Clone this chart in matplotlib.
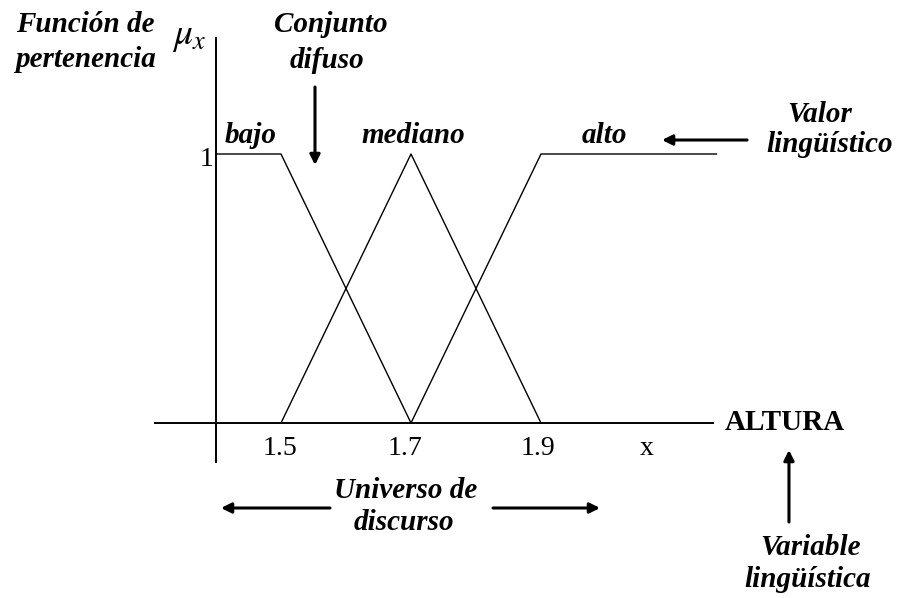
import matplotlib
matplotlib.use('Agg')
import matplotlib.pyplot as plt

# membership functions for "altura" (m) -> degree of membership
BAJO_X = [1.4, 1.5, 1.7]
BAJO_Y = [1, 1, 0]
MEDIANO_X = [1.5, 1.7, 1.9]
MEDIANO_Y = [0, 1, 0]
ALTO_X = [1.7, 1.9, 2.17]
ALTO_Y = [0, 1, 1]
TICKS = [1.5, 1.7, 1.9]
TICK_LABEL_X = [1.498, 1.690, 1.895]
SET_LABELS = ['bajo', 'mediano', 'alto']
SET_LABEL_X = [1.454, 1.703, 1.997]

plt.rcParams['mathtext.fontset'] = 'stix'
SERIF = 'Liberation Serif'
FS = 21

fig = plt.figure(figsize=(8.97, 5.98), dpi=100)
ax = fig.add_axes([0, 0, 1, 1])
ax.set_xlim(1.0677, 2.4477)
ax.set_ylim(-0.6506, 1.5725)
ax.axis('off')

# axes of the diagram
ax.plot([1.306, 2.165], [0, 0], color='black', lw=1.4)
ax.plot([1.4, 1.4], [-0.145, 1.431], color='black', lw=1.4)

for xs, ys in [(BAJO_X, BAJO_Y), (MEDIANO_X, MEDIANO_Y), (ALTO_X, ALTO_Y)]:
    ax.plot(xs, ys, color='black', lw=1.0)

bi = dict(family=SERIF, style='italic', weight='bold', color='black',
          fontsize=FS, ha='center', va='baseline')
for lab, x in zip(SET_LABELS, SET_LABEL_X):
    ax.text(x, 1.04, lab, **bi)

for t, x in zip(TICKS, TICK_LABEL_X):
    ax.text(x, -0.093, f'{t:.1f}', ha='center', va='center', fontsize=20, family=SERIF)
ax.text(2.063, -0.093, 'x', ha='center', va='center', fontsize=20, family=SERIF)
ax.text(1.386, 0.978, '1', ha='center', va='center', fontsize=20, family=SERIF)

ax.text(2.2754, 0.0, 'ALTURA', ha='center', va='center', fontsize=21,
        family=SERIF, weight='bold')
ax.text(1.332, 1.44, r'$\mu_x$', ha='left', va='center', fontsize=27)

ax.text(1.1985, 1.4535, 'Función de', **bi)
ax.text(1.2, 1.3234, 'pertenencia', **bi)
ax.text(1.577, 1.4535, 'Conjunto', **bi)
ax.text(1.571, 1.3197, 'difuso', **bi)
ax.text(2.329, 1.12, 'Valor', **bi)
ax.text(2.3446, 1.0074, 'lingüístico', **bi)
ax.text(1.6923, -0.2788, 'Universo de', **bi)
ax.text(1.6892, -0.3978, 'discurso', **bi)
ax.text(2.3154, -0.4907, 'Variable', **bi)
ax.text(2.3108, -0.6097, 'lingüística', **bi)

arrow = dict(arrowstyle='-|>', color='black', lw=2.2, mutation_scale=15,
             shrinkA=0, shrinkB=0)
ax.annotate('', xy=(1.5523, 0.959), xytext=(1.5523, 1.249), arrowprops=arrow)
ax.annotate('', xy=(2.0862, 1.052), xytext=(2.217, 1.052), arrowprops=arrow)
ax.annotate('', xy=(1.4077, -0.316), xytext=(1.5754, -0.316), arrowprops=arrow)
ax.annotate('', xy=(1.9908, -0.316), xytext=(1.8262, -0.316), arrowprops=arrow)
ax.annotate('', xy=(2.2815, -0.1004), xytext=(2.2815, -0.368), arrowprops=arrow)

fig.savefig('out.png', dpi=100)
